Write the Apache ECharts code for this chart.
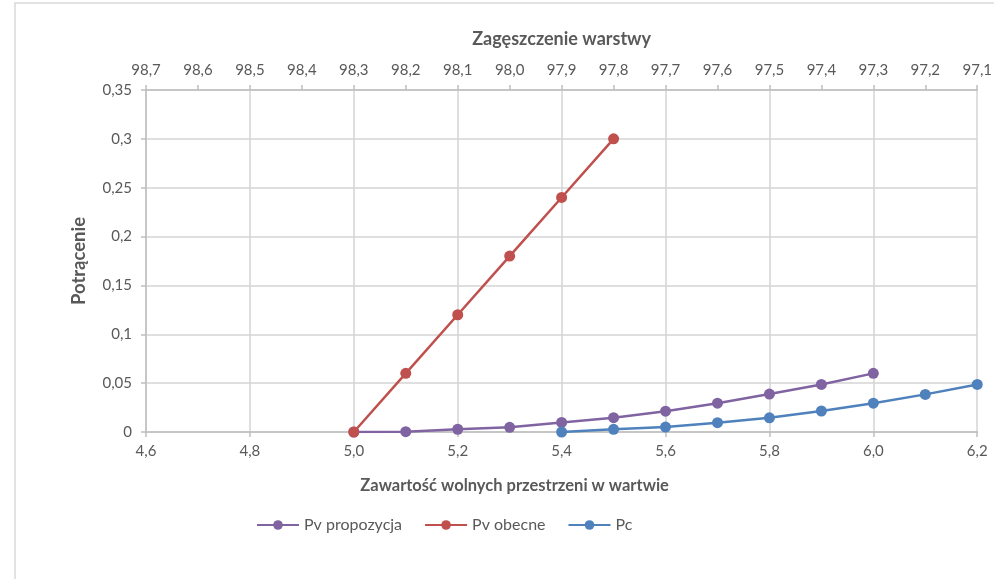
<!DOCTYPE html>
<html><head><meta charset="utf-8">
<script src="https://cdn.jsdelivr.net/npm/echarts@6/dist/echarts.min.js"></script>
<style>html,body{margin:0;padding:0;background:#fff}#c{width:995px;height:579px}</style>
</head><body><div id="c"></div>
<script>
const xPropozycja = [5.0, 5.1, 5.2, 5.3, 5.4, 5.5, 5.6, 5.7, 5.8, 5.9, 6.0];
const yPropozycja = [0, 0.0003, 0.0028, 0.0048, 0.0098, 0.0146, 0.0213, 0.0295, 0.0388, 0.0487, 0.06];
const xObecne = [5.0, 5.1, 5.2, 5.3, 5.4, 5.5];
const yObecne = [0, 0.06, 0.12, 0.18, 0.24, 0.30];
const xPc = [5.4, 5.5, 5.6, 5.7, 5.8, 5.9, 6.0, 6.1, 6.2];
const yPc = [0, 0.0027, 0.005, 0.0095, 0.0145, 0.0215, 0.0295, 0.0385, 0.0487];
const seriesNames = ['Pv propozycja', 'Pv obecne', 'Pc'];
const xTitle = 'Zawartość wolnych przestrzeni w wartwie';
const x2Title = 'Zagęszczenie warstwy';
const yTitle = 'Potrącenie';

const pairs = (xs, ys) => xs.map((x, i) => [x, ys[i]]);
const FONT = 'Lato';
const TXT = '#595959';
const lab = {color: TXT, fontFamily: FONT, fontSize: 15};
const axLine = {show: true, lineStyle: {color: '#bfbfbf', width: 1.5}};
const tick = {show: true, inside: false, length: 5, lineStyle: {color: '#bfbfbf', width: 1.5}};
const comma = (d) => (v) => (d === null ? String(+v.toFixed(2)) : v.toFixed(d)).replace('.', ',');

const chart = echarts.init(document.getElementById('c'));
chart.setOption({
  animation: false,
  textStyle: {fontFamily: FONT},
  graphic: [{type: 'polyline', shape: {points: [[15, 600], [15, 3], [994, 3]]}, style: {fill: 'none', stroke: '#d9d9d9', lineWidth: 1.5}, silent: true}],
  grid: {left: 146, right: 17, top: 90, bottom: 147},
  legend: {
    data: seriesNames, left: 251, top: 512, itemWidth: 42, itemHeight: 12, itemGap: 22,
    textStyle: {color: TXT, fontFamily: FONT, fontSize: 16}
  },
  xAxis: [{
    type: 'value', position: 'bottom', min: 4.6, max: 6.2, interval: 0.2,
    axisLine: axLine, axisTick: tick,
    axisLabel: Object.assign({margin: 12, formatter: comma(1)}, lab),
    splitLine: {show: true, lineStyle: {color: '#d4d4d4', width: 1.5}},
    name: xTitle, nameLocation: 'middle', nameGap: 45,
    nameTextStyle: {color: TXT, fontFamily: FONT, fontSize: 16.5, fontWeight: 'bold', padding: [0, 94, 0, 0]}
  }, {
    type: 'value', position: 'top', inverse: true, min: 97.1, max: 98.7, interval: 0.1,
    axisLine: axLine, axisTick: tick,
    axisLabel: Object.assign({margin: 12, formatter: comma(1)}, lab),
    splitLine: {show: false},
    name: x2Title, nameLocation: 'middle', nameGap: 42,
    nameTextStyle: {color: TXT, fontFamily: FONT, fontSize: 18, fontWeight: 'bold'}
  }],
  yAxis: {
    type: 'value', min: 0, max: 0.35, interval: 0.05,
    axisLine: axLine, axisTick: tick,
    axisLabel: Object.assign({margin: 14, formatter: comma(null)}, lab),
    splitLine: {show: true, lineStyle: {color: '#d4d4d4', width: 1.5}},
    name: yTitle, nameLocation: 'middle', nameGap: 57, nameRotate: 90,
    nameTextStyle: {color: TXT, fontFamily: FONT, fontSize: 18.5, fontWeight: 'bold'}
  },
  series: [
    {name: seriesNames[0], type: 'line', xAxisIndex: 0, data: pairs(xPropozycja, yPropozycja), color: '#8064A2',
     symbol: 'circle', symbolSize: 11, lineStyle: {width: 2.5}},
    {name: seriesNames[1], type: 'line', xAxisIndex: 0, data: pairs(xObecne, yObecne), color: '#C0504D',
     symbol: 'circle', symbolSize: 11, lineStyle: {width: 2.5}},
    {name: seriesNames[2], type: 'line', xAxisIndex: 0, data: pairs(xPc, yPc), color: '#4F81BD',
     symbol: 'circle', symbolSize: 11, lineStyle: {width: 2.5}}
  ]
});
</script></body></html>
